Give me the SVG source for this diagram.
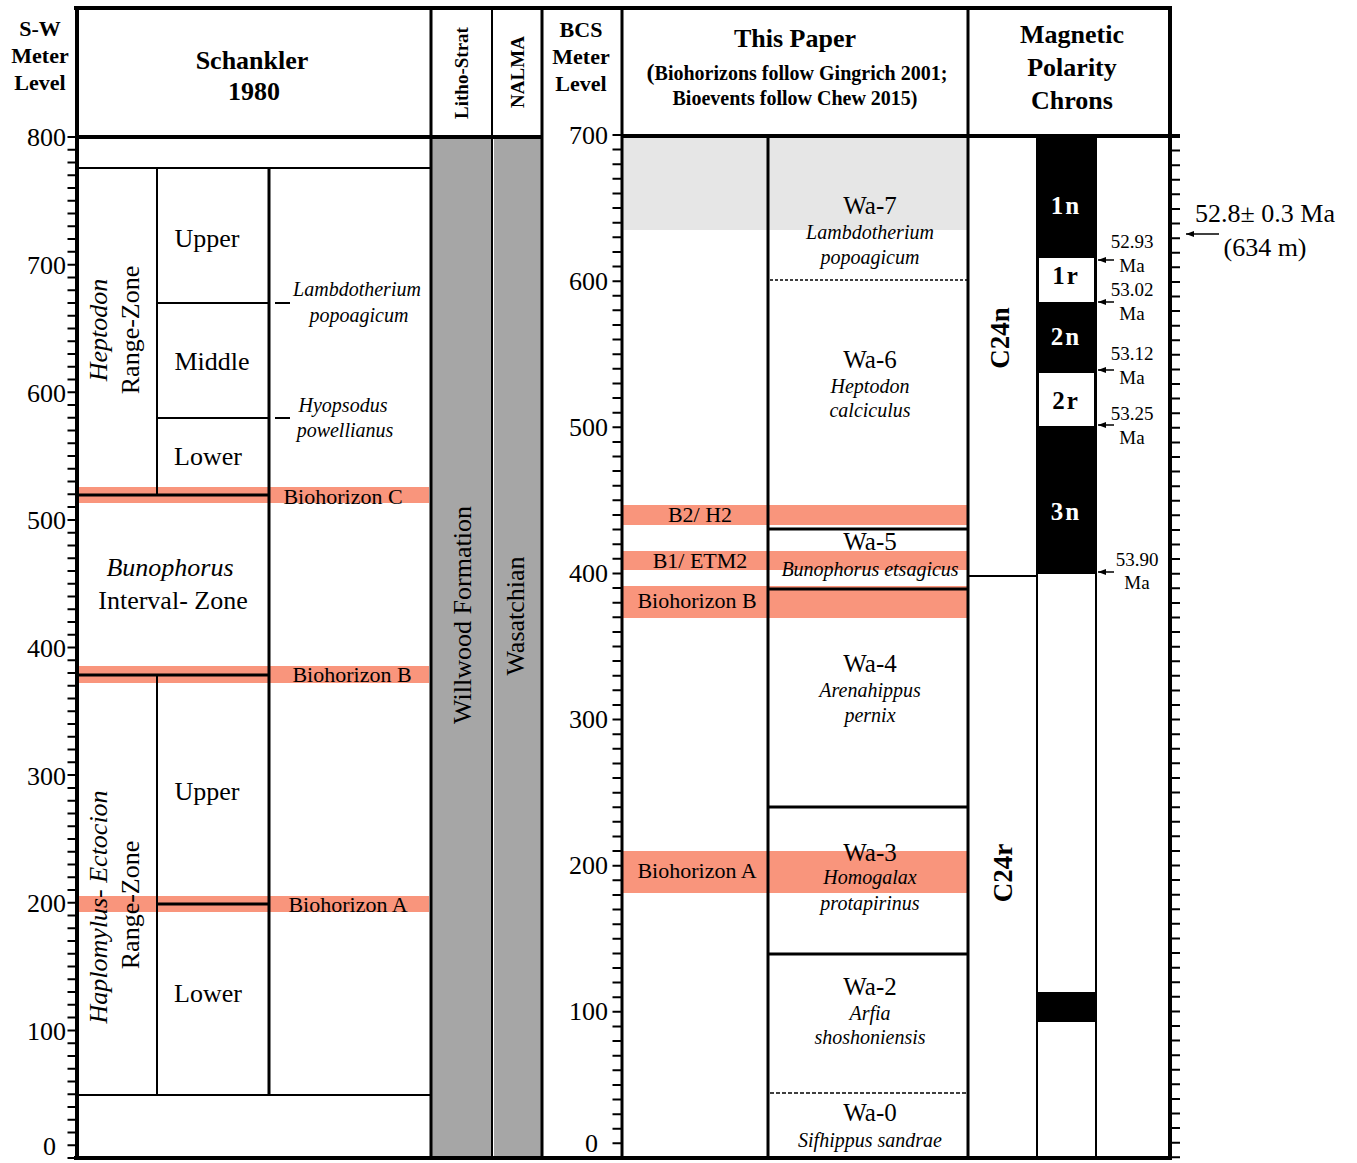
<svg xmlns="http://www.w3.org/2000/svg" width="1357" height="1163" viewBox="0 0 1357 1163">
<defs>
<style>
text{font-family:"Liberation Serif","Times New Roman",serif;fill:#000}
.b{font-weight:bold}
.i{font-style:italic}
.c{text-anchor:middle}
.e{text-anchor:end}
.h22{font-size:22px}
.n26{font-size:26px}
.s20{font-size:20px}
.s19{font-size:19px}
.thick{stroke:#000;stroke-width:4;fill:none}
.med{stroke:#000;stroke-width:3;fill:none}
.thin{stroke:#000;stroke-width:2;fill:none}
.salmon{fill:#f9957c}
.gray{fill:#a6a6a6}
.lgray{fill:#e6e6e6}
.wtxt{fill:#fff}
</style>
<marker id="ah" markerWidth="9" markerHeight="8" refX="8" refY="4" orient="auto" markerUnits="userSpaceOnUse">
<path d="M0,1 L8,4 L0,7 Z" fill="#000"/>
</marker>
</defs>
<rect width="1357" height="1163" fill="#fff"/>

<!-- fills -->
<g id="fills">
<rect class="gray" x="432" y="138" width="59" height="1019"/>
<rect class="gray" x="494" y="138" width="47" height="1019"/>
<rect class="lgray" x="623" y="138" width="344" height="92"/>
<rect class="salmon" x="78" y="487" width="351" height="16"/>
<rect class="salmon" x="78" y="666" width="351" height="17"/>
<rect class="salmon" x="78" y="896" width="351" height="16"/>
<rect class="salmon" x="623" y="505" width="344" height="20"/>
<rect class="salmon" x="623" y="551" width="344" height="19"/>
<rect class="salmon" x="623" y="586" width="344" height="32"/>
<rect class="salmon" x="623" y="851" width="344" height="42"/>
</g>

<!-- header -->
<g id="header">
<text class="b h22 c" x="40" y="36">S-W</text>
<text class="b h22 c" x="40" y="63">Meter</text>
<text class="b h22 c" x="40" y="90">Level</text>
<text class="b n26 c" x="252" y="69">Schankler</text>
<text class="b n26 c" x="254" y="100">1980</text>
<text class="b s19 c" transform="translate(468,73) rotate(-90)">Litho-Strat</text>
<text class="b s19 c" transform="translate(524,72) rotate(-90)">NALMA</text>
<text class="b h22 c" x="581" y="37">BCS</text>
<text class="b h22 c" x="581" y="64">Meter</text>
<text class="b h22 c" x="581" y="91">Level</text>
<text class="b n26 c" x="795" y="47">This Paper</text>
<text class="b s20 c" x="797" y="80"><tspan style="font-size:24px">(</tspan>Biohorizons follow Gingrich 2001;</text>
<text class="b s20 c" x="795" y="105">Bioevents follow Chew 2015)</text>
<text class="b n26 c" x="1072" y="43">Magnetic</text>
<text class="b n26 c" x="1072" y="76">Polarity</text>
<text class="b n26 c" x="1072" y="109">Chrons</text>
</g>

<!-- frame -->
<g id="frame">
<line class="thick" x1="74" y1="8" x2="1172" y2="8"/>
<line class="thick" x1="76" y1="137" x2="542" y2="137"/>
<line class="thick" x1="622" y1="136" x2="1180" y2="136"/>
<line class="thick" x1="74" y1="1158" x2="1172" y2="1158"/>
<line class="thick" x1="77" y1="6" x2="77" y2="1160"/>
<line class="med" x1="431" y1="8" x2="431" y2="1158"/>
<line class="thin" x1="492" y1="8" x2="492" y2="1158"/>
<line class="med" x1="542" y1="8" x2="542" y2="1158"/>
<line class="med" x1="622" y1="8" x2="622" y2="1158"/>
<line class="med" x1="968" y1="8" x2="968" y2="1158"/>
<line class="thick" x1="1170" y1="6" x2="1170" y2="1160"/>
</g>

<!-- axes -->
<g id="axis-sw">
<line x1="72" y1="136" x2="72" y2="1159" stroke="#000" stroke-width="9" stroke-dasharray="2 10.7625"/>
<text class="n26 e" x="66" y="146">800</text>
<text class="n26 e" x="66" y="274">700</text>
<text class="n26 e" x="66" y="402">600</text>
<text class="n26 e" x="66" y="529">500</text>
<text class="n26 e" x="66" y="657">400</text>
<text class="n26 e" x="66" y="785">300</text>
<text class="n26 e" x="66" y="912">200</text>
<text class="n26 e" x="66" y="1040">100</text>
<text class="n26 e" x="56" y="1155">0</text>
</g>
<g id="axis-bcs">
<line x1="617" y1="134" x2="617" y2="1159" stroke="#000" stroke-width="9" stroke-dasharray="2 12.614"/>
<text class="n26 e" x="608" y="144">700</text>
<text class="n26 e" x="608" y="290">600</text>
<text class="n26 e" x="608" y="436">500</text>
<text class="n26 e" x="608" y="582">400</text>
<text class="n26 e" x="608" y="728">300</text>
<text class="n26 e" x="608" y="874">200</text>
<text class="n26 e" x="608" y="1020">100</text>
<text class="n26 e" x="598" y="1152">0</text>
</g>
<g id="axis-right">
<line x1="1175" y1="135" x2="1175" y2="1159" stroke="#000" stroke-width="10" stroke-dasharray="2 12.59"/>
</g>

<!-- Schankler column -->
<g id="schankler">
<line class="thin" x1="77" y1="168" x2="431" y2="168"/>
<line class="thin" x1="77" y1="1095" x2="431" y2="1095"/>
<line class="thin" x1="157" y1="168" x2="157" y2="495"/>
<line class="thin" x1="157" y1="675" x2="157" y2="1095"/>
<line class="med" x1="269" y1="168" x2="269" y2="1095"/>
<line class="thin" x1="157" y1="303" x2="269" y2="303"/>
<line class="thin" x1="157" y1="418" x2="269" y2="418"/>
<line class="thin" x1="275" y1="303" x2="290" y2="303"/>
<line class="thin" x1="275" y1="418" x2="290" y2="418"/>
<line class="med" x1="77" y1="495" x2="269" y2="495"/>
<line class="med" x1="77" y1="675" x2="269" y2="675"/>
<line class="med" x1="157" y1="904" x2="269" y2="904"/>
</g>
<g id="heptodon-zone">
<text class="n26 i c" transform="translate(107,330) rotate(-90)">Heptodon</text>
<text class="n26 c" transform="translate(139,330) rotate(-90)">Range-Zone</text>
<text class="n26 c" x="207" y="247">Upper</text>
<text class="n26 c" x="212" y="370">Middle</text>
<text class="n26 c" x="208" y="465">Lower</text>
<text class="s20 i c" x="357" y="296">Lambdotherium</text>
<text class="s20 i c" x="359" y="322">popoagicum</text>
<text class="s20 i c" x="343" y="412">Hyopsodus</text>
<text class="s20 i c" x="345" y="437">powellianus</text>
<text class="h22 c" x="343" y="504">Biohorizon C</text>
</g>
<g id="bunophorus-zone">
<text class="n26 i c" x="170" y="576">Bunophorus</text>
<text class="n26 c" x="173" y="609">Interval- Zone</text>
<text class="h22 c" x="352" y="682">Biohorizon B</text>
</g>
<g id="haplomylus-zone">
<text class="n26 i c" transform="translate(107,907) rotate(-90)">Haplomylus- Ectocion</text>
<text class="n26 c" transform="translate(139,905) rotate(-90)">Range-Zone</text>
<text class="n26 c" x="207" y="800">Upper</text>
<text class="n26 c" x="208" y="1002">Lower</text>
<text class="h22 c" x="348" y="912">Biohorizon A</text>
</g>
<g id="litho">
<text class="n26 c" transform="translate(471,615) rotate(-90)">Willwood Formation</text>
</g>
<g id="nalma">
<text class="n26 c" transform="translate(524,616) rotate(-90)">Wasatchian</text>
</g>

<!-- This Paper -->
<g id="this-paper">
<line class="med" x1="768" y1="134" x2="768" y2="1158"/>
<line x1="770" y1="280" x2="967" y2="280" stroke="#000" stroke-width="1.5" stroke-dasharray="3 2"/>
<line class="med" x1="768" y1="529" x2="968" y2="529"/>
<line class="med" x1="768" y1="589" x2="968" y2="589"/>
<line class="med" x1="768" y1="807" x2="968" y2="807"/>
<line class="med" x1="768" y1="954" x2="968" y2="954"/>
<line x1="770" y1="1093" x2="967" y2="1093" stroke="#000" stroke-width="1.5" stroke-dasharray="4 2"/>
</g>
<g id="wa7">
<text class="c" x="870" y="214" style="font-size:25px">Wa-7</text>
<text class="s20 i c" x="870" y="239">Lambdotherium</text>
<text class="s20 i c" x="870" y="264">popoagicum</text>
</g>
<g id="wa6">
<text class="c" x="870" y="368" style="font-size:25px">Wa-6</text>
<text class="s20 i c" x="870" y="393">Heptodon</text>
<text class="s20 i c" x="870" y="417">calciculus</text>
</g>
<g id="wa5">
<text class="c" x="870" y="550" style="font-size:25px">Wa-5</text>
<text class="s20 i c" x="870" y="576">Bunophorus etsagicus</text>
</g>
<g id="wa4">
<text class="c" x="870" y="672" style="font-size:25px">Wa-4</text>
<text class="s20 i c" x="870" y="697">Arenahippus</text>
<text class="s20 i c" x="870" y="722">pernix</text>
</g>
<g id="wa3">
<text class="c" x="870" y="861" style="font-size:25px">Wa-3</text>
<text class="s20 i c" x="870" y="884">Homogalax</text>
<text class="s20 i c" x="870" y="910">protapirinus</text>
</g>
<g id="wa2">
<text class="c" x="870" y="995" style="font-size:25px">Wa-2</text>
<text class="s20 i c" x="870" y="1020">Arfia</text>
<text class="s20 i c" x="870" y="1044">shoshoniensis</text>
</g>
<g id="wa0">
<text class="c" x="870" y="1121" style="font-size:25px">Wa-0</text>
<text class="s20 i c" x="870" y="1147">Sifhippus sandrae</text>
</g>
<g id="biohorizons">
<text class="h22 c" x="700" y="522">B2/ H2</text>
<text class="h22 c" x="700" y="568">B1/ ETM2</text>
<text class="h22 c" x="697" y="608">Biohorizon B</text>
<text class="h22 c" x="697" y="878">Biohorizon A</text>
</g>

<!-- Magnetic polarity -->
<g id="chrons">
<line class="thin" x1="968" y1="576" x2="1036" y2="576"/>
<text class="b c" style="font-size:27px" transform="translate(1009,338) rotate(-90)">C24n</text>
<text class="b c" style="font-size:27px" transform="translate(1012,873) rotate(-90)">C24r</text>
</g>
<g id="polarity">
<rect x="1036" y="137" width="60" height="437" fill="#000"/>
<rect x="1039" y="258" width="55" height="44" fill="#fff"/>
<rect x="1039" y="373" width="55" height="53" fill="#fff"/>
<rect x="1036" y="992" width="60" height="30" fill="#000"/>
<line class="thin" x1="1037" y1="137" x2="1037" y2="1158"/>
<line class="thin" x1="1096" y1="137" x2="1096" y2="1158"/>
<text class="b wtxt c" x="1066" y="214" style="font-size:25px;letter-spacing:2px">1n</text>
<text class="b c" x="1066" y="284" style="font-size:25px;letter-spacing:2px">1r</text>
<text class="b wtxt c" x="1066" y="345" style="font-size:25px;letter-spacing:2px">2n</text>
<text class="b c" x="1066" y="409" style="font-size:25px;letter-spacing:2px">2r</text>
<text class="b wtxt c" x="1066" y="520" style="font-size:25px;letter-spacing:2px">3n</text>
</g>
<g id="ages">
<text class="s19 c" x="1132" y="248">52.93</text>
<text class="s19 c" x="1132" y="272">Ma</text>
<text class="s19 c" x="1132" y="296">53.02</text>
<text class="s19 c" x="1132" y="320">Ma</text>
<text class="s19 c" x="1132" y="360">53.12</text>
<text class="s19 c" x="1132" y="384">Ma</text>
<text class="s19 c" x="1132" y="420">53.25</text>
<text class="s19 c" x="1132" y="444">Ma</text>
<text class="s19 c" x="1137" y="566">53.90</text>
<text class="s19 c" x="1137" y="589">Ma</text>
</g>
<g id="age-annotation">
<text class="c" style="font-size:26px" x="1265" y="222">52.8± 0.3 Ma</text>
<text class="c" style="font-size:26px" x="1265" y="256">(634 m)</text>
</g>

<!-- connectors -->
<g id="connectors" stroke="#000" stroke-width="1.5" fill="none">
<line x1="1114" y1="260" x2="1098" y2="260" marker-end="url(#ah)"/>
<line x1="1114" y1="302" x2="1098" y2="302" marker-end="url(#ah)"/>
<line x1="1114" y1="370" x2="1098" y2="370" marker-end="url(#ah)"/>
<line x1="1114" y1="425" x2="1098" y2="425" marker-end="url(#ah)"/>
<line x1="1114" y1="572" x2="1098" y2="572" marker-end="url(#ah)"/>
<line x1="1219" y1="234" x2="1186" y2="234" marker-end="url(#ah)"/>
</g>
</svg>
